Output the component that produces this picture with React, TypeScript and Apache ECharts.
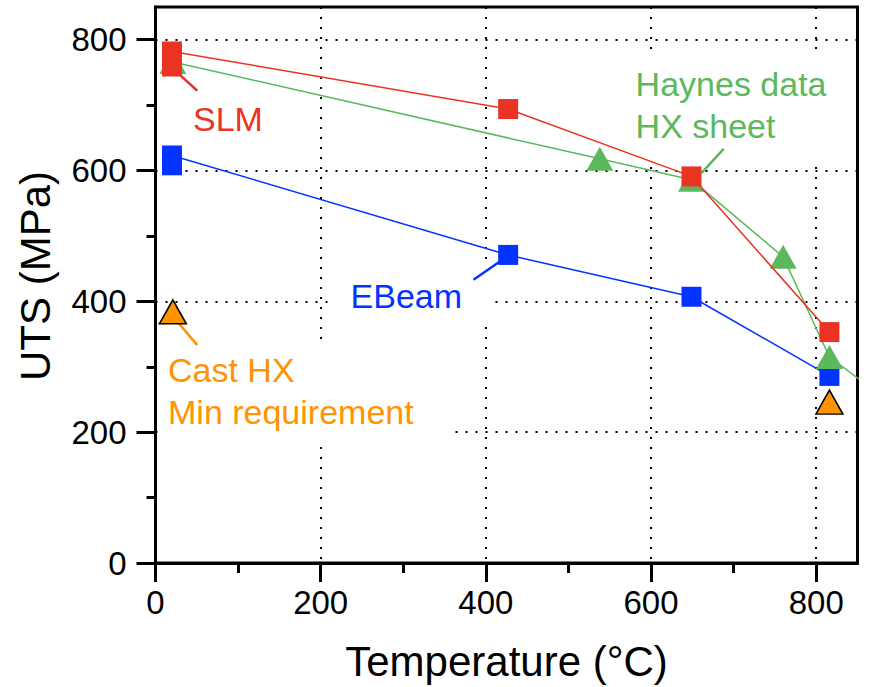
import React, { useEffect, useRef } from "react";
import * as echarts from "echarts";

// ---- data ----
const xTicks = [0, 200, 400, 600, 800];
const xMinorTicks = [100, 300, 500, 700];
const yTicks = [0, 200, 400, 600, 800];
const yMinorTicks = [100, 300, 500, 700];

const ebeamTemp = [20, 20, 427, 649, 816];
const ebeamUTS = [608, 623, 471, 407, 286];

const slmTemp = [20, 20, 427, 649, 816];
const slmUTS = [759, 782, 694, 591, 353];

const haynesTemp = [21, 538, 649, 760, 816, 871];
const haynesUTS = [766, 618, 586, 468, 315, 263];

const castTemp = [21, 816];
const castUTS = [384, 246];

// leader lines (annotation anchors in data units)
const slmLeader = [[30.5, 745], [50.6, 722]];
const haynesLeader = [[661, 596], [688, 633]];
const ebeamLeader = [[417, 461], [385, 433]];
const castLeader = [[26.4, 369], [50.6, 333]];

const RED = "#EB3323";
const BLUE = "#0433FF";
const GREEN = "#5CB85C";
const ORANGE = "#FF9300";
const FONT = "'Liberation Sans', Arial, Helvetica, sans-serif";

const zip = (xs: number[], ys: number[]) => xs.map((x, i) => [x, ys[i]]);

function leader(data: number[][], color: string) {
  return {
    type: "line",
    data,
    symbol: "none",
    silent: true,
    lineStyle: { color, width: 2.5 },
    z: 2,
  };
}

function label(
  text: string,
  color: string,
  x: number,
  y: number,
  lineHeight: number,
  padding: number[]
) {
  return {
    type: "text",
    x,
    y,
    z: 1,
    silent: true,
    style: {
      text,
      fill: color,
      fontSize: 34,
      fontFamily: FONT,
      font: `34px ${FONT}`,
      lineHeight,
      align: "left",
      verticalAlign: "top",
      textAlign: "left",
      textVerticalAlign: "top",
      backgroundColor: "#fff",
      padding,
    },
  };
}

export default function App() {
  const ref = useRef<HTMLDivElement>(null);

  useEffect(() => {
    const chart = echarts.init(ref.current!, undefined, { renderer: "svg" });
    const tickLine = { color: "#000", width: 3 };
    const grid = { color: "#000", width: 2, type: [2, 8] };
    chart.setOption({
      animation: false,
      backgroundColor: "#fff",
      textStyle: { fontFamily: FONT },
      grid: {
        left: 155.5,
        right: 11.5,
        top: 7,
        bottom: 124,
        show: true,
        borderColor: "#000",
        borderWidth: 3,
        backgroundColor: "transparent",
        containLabel: false,
      },
      xAxis: [
        {
          type: "value",
          position: "bottom",
          min: 0,
          max: 850,
          interval: 200,
          axisLine: { show: true, onZero: false, lineStyle: tickLine },
          axisTick: { show: true, customValues: xTicks, length: 19, lineStyle: tickLine },
          axisLabel: {
            customValues: xTicks,
            fontSize: 33,
            color: "#000",
            margin: 23,
            fontFamily: FONT,
          },
          splitLine: { show: true, lineStyle: grid },
          name: "Temperature (°C)",
          nameLocation: "middle",
          nameGap: 77,
          nameTextStyle: { fontSize: 42, color: "#000", fontFamily: FONT },
        },
        {
          type: "value",
          position: "bottom",
          min: 0,
          max: 850,
          axisLine: { show: false },
          axisTick: { show: true, customValues: xMinorTicks, length: 10, lineStyle: tickLine },
          axisLabel: { show: false },
          splitLine: { show: false },
        },
      ],
      yAxis: [
        {
          type: "value",
          position: "left",
          min: 0,
          max: 850,
          interval: 200,
          axisLine: { show: true, onZero: false, lineStyle: tickLine },
          axisTick: { show: true, customValues: yTicks, length: 19, lineStyle: tickLine },
          axisLabel: {
            customValues: yTicks,
            fontSize: 33,
            color: "#000",
            margin: 29,
            fontFamily: FONT,
          },
          splitLine: { show: true, lineStyle: grid },
          name: "UTS (MPa)",
          nameLocation: "middle",
          nameGap: 99,
          nameTextStyle: { fontSize: 42, color: "#000", fontFamily: FONT, padding: [0, 0, 0, 18] },
        },
        {
          type: "value",
          position: "left",
          min: 0,
          max: 850,
          axisLine: { show: false },
          axisTick: { show: true, customValues: yMinorTicks, length: 9, lineStyle: tickLine },
          axisLabel: { show: false },
          splitLine: { show: false },
        },
      ],
      graphic: [
        label("SLM", RED, 193, 101.6, 34, [0, 0, 0, 0]),
        label("EBeam", BLUE, 334.6, 265, 34, [14, 28, 7, 16]),
        label("Cast HX\nMin requirement", ORANGE, 158, 344.7, 42, [4, 38, 8, 10]),
        label("Haynes data\nHX sheet", GREEN, 623.6, 53.1, 42, [10, 18, 18, 12]),
      ],
      series: [
        leader(slmLeader, RED),
        leader(haynesLeader, GREEN),
        leader(ebeamLeader, BLUE),
        leader(castLeader, ORANGE),
        {
          type: "scatter",
          name: "Cast HX",
          data: zip(castTemp, castUTS),
          symbol: "triangle",
          symbolSize: [27, 24],
          itemStyle: { color: ORANGE, borderColor: "#000", borderWidth: 1.5, opacity: 1 },
          z: 3,
        },
        {
          type: "line",
          name: "EBeam",
          data: zip(ebeamTemp, ebeamUTS),
          symbol: "rect",
          symbolSize: 20,
          showAllSymbol: true,
          lineStyle: { color: BLUE, width: 1.5 },
          itemStyle: { color: BLUE, opacity: 1 },
          z: 3,
        },
        {
          type: "line",
          name: "Haynes",
          data: zip(haynesTemp, haynesUTS),
          symbol: "triangle",
          symbolSize: [27, 24],
          showAllSymbol: true,
          lineStyle: { color: GREEN, width: 1.5 },
          itemStyle: { color: GREEN, opacity: 1 },
          z: 4,
        },
        {
          type: "line",
          name: "SLM",
          data: zip(slmTemp, slmUTS),
          symbol: "rect",
          symbolSize: 20,
          showAllSymbol: true,
          lineStyle: { color: RED, width: 1.5 },
          itemStyle: { color: RED, opacity: 1 },
          z: 5,
        },
      ],
    });
    return () => chart.dispose();
  }, []);

  return (
    <div
      ref={ref}
      style={{ position: "fixed", left: 0, top: 0, width: 869, height: 687, background: "#fff" }}
    />
  );
}
